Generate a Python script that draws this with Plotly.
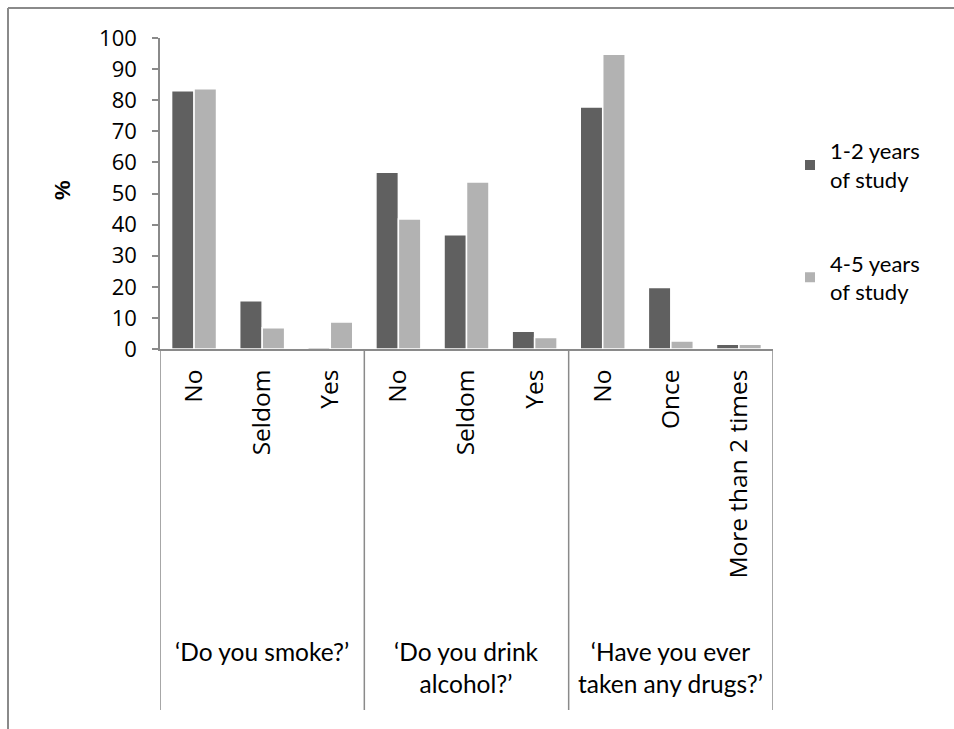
import plotly.graph_objects as go

# Survey answers, grouped by question
questions = ["\u2018Do you smoke?\u2019",
             "\u2018Do you drink<br>alcohol?\u2019",
             "\u2018Have you ever<br>taken any drugs?\u2019"]
answers = ["No", "Seldom", "Yes",
           "No", "Seldom", "Yes",
           "No", "Once", "More than 2 times"]
answers_per_question = [3, 3, 3]

# Percent of respondents
years_1_2 = [83, 15.5, 0.6, 56.8, 36.7, 5.7, 77.8, 19.8, 1.5]
years_4_5 = [83.7, 6.8, 8.7, 41.8, 53.7, 3.7, 94.8, 2.6, 1.5]
series_names = ["1-2 years<br>of study", "4-5 years<br>of study"]
y_ticks = [0, 10, 20, 30, 40, 50, 60, 70, 80, 90, 100]

DARK = "#606060"
LIGHT = "#b2b2b2"
AXIS = "#8a8a8a"
FONT_TICK = "Open Sans"
FONT_TEXT = "Lato"

xpos = list(range(len(answers)))

fig = go.Figure()
for name, vals, col, grp in [(series_names[0], years_1_2, DARK, "a"),
                             (series_names[1], years_4_5, LIGHT, "b")]:
    fig.add_trace(go.Bar(
        x=xpos, y=vals, name=name, legendgroup=grp,
        marker=dict(color=col, line=dict(color="white", width=1.5)),
    ))

# plot-area geometry in pixels (used to express overlays in paper units)
L, R, T, B = 160, 181, 38, 380
W, H = 954, 729
pw, ph = W - L - R, H - T - B


def px_to_paper_x(px):
    return (px - L) / pw


def px_to_paper_y(py):
    return (H - B - py) / ph


shapes = []
# group separators running from the axis down through the label area
edges = [-0.5]
for n in answers_per_question:
    edges.append(edges[-1] + n)
for e in edges:
    shapes.append(dict(type="line", xref="x", yref="paper",
                       x0=e, x1=e, y0=0, y1=px_to_paper_y(710),
                       line=dict(color=AXIS, width=1.5)))
# outer frame (top and left edges)
shapes.append(dict(type="line", xref="paper", yref="paper",
                   x0=px_to_paper_x(8), x1=px_to_paper_x(954),
                   y0=px_to_paper_y(8), y1=px_to_paper_y(8),
                   line=dict(color=AXIS, width=2)))
shapes.append(dict(type="line", xref="paper", yref="paper",
                   x0=px_to_paper_x(8), x1=px_to_paper_x(8),
                   y0=px_to_paper_y(8), y1=px_to_paper_y(729),
                   line=dict(color=AXIS, width=2)))

annotations = []
for i, q in enumerate(questions):
    centre = (edges[i] + edges[i + 1]) / 2
    annotations.append(dict(x=centre, xref="x", y=px_to_paper_y(635), yref="paper",
                            text=q, showarrow=False, xanchor="center", yanchor="top",
                            font=dict(family=FONT_TEXT, size=24.5, color="black")))
annotations.append(dict(x=px_to_paper_x(62), xref="paper", y=px_to_paper_y(190), yref="paper",
                        text="<b>%</b>", textangle=-90, showarrow=False,
                        xanchor="center", yanchor="middle",
                        font=dict(family="Liberation Sans", size=22, color="black")))

fig.update_layout(
    width=W, height=H,
    margin=dict(l=L, r=R, t=T, b=B),
    paper_bgcolor="white", plot_bgcolor="white",
    barmode="group", bargap=0.34, bargroupgap=0.0,
    showlegend=True,
    legend=dict(x=px_to_paper_x(790), y=px_to_paper_y(130), xanchor="left", yanchor="top",
                font=dict(family=FONT_TEXT, size=22, color="black"),
                tracegroupgap=52, itemsizing="constant", bgcolor="rgba(0,0,0,0)"),
    xaxis=dict(range=[-0.5, len(answers) - 0.5], tickmode="array",
               tickvals=xpos, ticktext=answers, tickangle=-90,
               showline=True, linecolor=AXIS, linewidth=1.5,
               showgrid=False, zeroline=False, ticks="",
               ticklabelstandoff=9,
               tickfont=dict(family=FONT_TICK, size=24.5, color="black")),
    yaxis=dict(range=[0, 100], tickmode="array", tickvals=y_ticks,
               showline=True, linecolor=AXIS, linewidth=1.5,
               ticks="outside", ticklen=6, tickcolor=AXIS, tickwidth=1.5,
               showgrid=False, zeroline=False, ticklabelstandoff=11,
               tickfont=dict(family=FONT_TICK, size=22, color="black")),
    shapes=shapes, annotations=annotations,
)

fig.write_html("out.html")
